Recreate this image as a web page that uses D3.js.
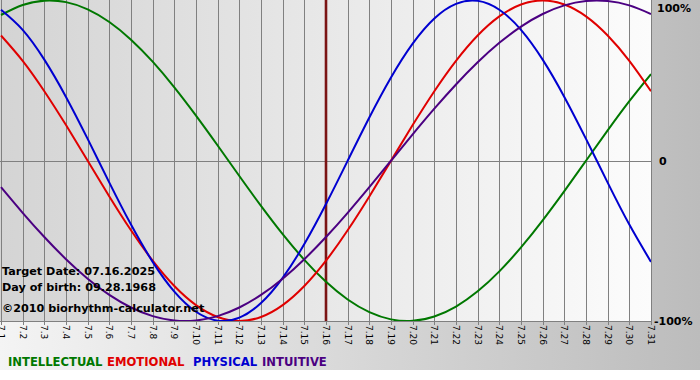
<!DOCTYPE html>
<html><head><meta charset="utf-8">
<script src="https://cdn.jsdelivr.net/npm/d3@7/dist/d3.min.js"></script>
<style>html,body{margin:0;padding:0;background:#fff;}svg{display:block;}</style>
</head><body>
<script>
const days = ["7.1","7.2","7.3","7.4","7.5","7.6","7.7","7.8","7.9","7.10","7.11","7.12","7.13","7.14","7.15","7.16","7.17","7.18","7.19","7.20","7.21","7.22","7.23","7.24","7.25","7.26","7.27","7.28","7.29","7.30","7.31"];
const intellectual = [0.9096,0.9718,0.9989,0.9898,0.9450,0.8660,0.7557,0.6182,0.4582,0.2817,0.0951,-0.0951,-0.2817,-0.4582,-0.6182,-0.7557,-0.8660,-0.9450,-0.9898,-0.9989,-0.9718,-0.9096,-0.8146,-0.6901,-0.5406,-0.3717,-0.1893,0,0.1893,0.3717,0.5406];
const emotional = [0.7818,0.6235,0.4339,0.2225,0,-0.2225,-0.4339,-0.6235,-0.7818,-0.9010,-0.9749,-1,-0.9749,-0.9010,-0.7818,-0.6235,-0.4339,-0.2225,0,0.2225,0.4339,0.6235,0.7818,0.9010,0.9749,1,0.9749,0.9010,0.7818,0.6235,0.4339];
const physical = [0.9423,0.8170,0.6310,0.3984,0.1362,-0.1362,-0.3984,-0.6310,-0.8170,-0.9423,-0.9977,-0.9791,-0.8879,-0.7308,-0.5196,-0.2698,0,0.2698,0.5196,0.7308,0.8879,0.9791,0.9977,0.9423,0.8170,0.6310,0.3984,0.1362,-0.1362,-0.3984,-0.6310];
const intuitive = [-0.1646,-0.3247,-0.4759,-0.6142,-0.7357,-0.8372,-0.9158,-0.9694,-0.9966,-0.9966,-0.9694,-0.9158,-0.8372,-0.7357,-0.6142,-0.4759,-0.3247,-0.1646,0,0.1646,0.3247,0.4759,0.6142,0.7357,0.8372,0.9158,0.9694,0.9966,0.9966,0.9694,0.9158];
const seriesNames = ["INTELLECTUAL","EMOTIONAL","PHYSICAL","INTUITIVE"];
const seriesColors = ["#007800","#e00000","#0000d0","#4b0082"];
const yTickValues = [1, 0, -1];
const yTickLabels = ["100%", "0", "-100%"];
const targetDay = "7.16";
const infoLines = ["Target Date: 07.16.2025", "Day of birth: 09.28.1968", "\u00a92010 biorhythm-calculator.net"];

const W = 700, H = 380;
const FONT = "DejaVu Sans, Verdana, sans-serif";
const svg = d3.select("body").append("svg").attr("width", W).attr("height", H);
const defs = svg.append("defs");
const g1 = defs.append("linearGradient").attr("id","outer").attr("x1","0").attr("x2","1").attr("y1","0").attr("y2","0");
g1.append("stop").attr("offset","0").attr("stop-color","#f4f4f4");
g1.append("stop").attr("offset","1").attr("stop-color","#bcbcbc");
const g2 = defs.append("linearGradient").attr("id","plotbg").attr("x1","0").attr("x2","1").attr("y1","0").attr("y2","0");
g2.append("stop").attr("offset","0").attr("stop-color","#d4d4d4");
g2.append("stop").attr("offset","1").attr("stop-color","#fcfcfc");

const L = 1, R = 651, T = 0, B = 321;
const x = d3.scaleLinear().domain([0, days.length - 1]).range([L, R]);
const y = d3.scaleLinear().domain([-1, 1]).range([B, T + 0.5]);

svg.append("rect").attr("x",0).attr("y",0).attr("width",W).attr("height",370).attr("fill","url(#outer)");
svg.append("rect").attr("x",0).attr("y",T).attr("width",R).attr("height",B-T).attr("fill","url(#plotbg)");
defs.append("clipPath").attr("id","clip").append("rect").attr("x",0).attr("y",T).attr("width",R).attr("height",B-T);

// vertical grid + ticks
svg.append("g").selectAll("line").data(days).join("line")
  .attr("x1",(d,i)=>Math.round(x(i))+0.5).attr("x2",(d,i)=>Math.round(x(i))+0.5)
  .attr("y1",T).attr("y2",B+4).attr("stroke","#808080").attr("stroke-width",1);
// zero line
svg.append("line").attr("x1",0).attr("x2",R).attr("y1",Math.round(y(0))+0.5).attr("y2",Math.round(y(0))+0.5)
  .attr("stroke","#808080");
// bottom axis line
svg.append("line").attr("x1",0).attr("x2",R+1).attr("y1",B+0.5).attr("y2",B+0.5).attr("stroke","#808080");

// target line
const ti = days.indexOf(targetDay);
svg.append("line").attr("x1",x(ti)).attr("x2",x(ti)).attr("y1",T).attr("y2",B)
  .attr("stroke","#7a1414").attr("stroke-width",2.6);

// curves
const line = d3.line().x((d,i)=>x(i)).y(d=>y(d)).curve(d3.curveNatural);
const allSeries = [intellectual, emotional, physical, intuitive];
const cg = svg.append("g").attr("clip-path","url(#clip)");
allSeries.forEach((s,k)=>{
  cg.append("path").attr("d", line(s)).attr("fill","none").attr("stroke",seriesColors[k]).attr("stroke-width",2);
});

// x tick labels
svg.append("g").selectAll("text").data(days).join("text")
  .attr("transform",(d,i)=>`translate(${Math.round(x(i))+0.5},${B+4}) rotate(90)`)
  .attr("dy","0.35em").attr("font-family",FONT).attr("font-size",9)
  .attr("fill","#000").text(d=>d);

// y labels
svg.append("g").selectAll("text").data(yTickValues).join("text")
  .attr("x",(d,i)=> i===1 ? 659 : (i===0 ? 657 : 654))
  .attr("y",d=>Math.max(y(d), 8)).attr("dy","0.36em")
  .attr("font-family",FONT).attr("font-weight","bold").attr("font-size",11)
  .attr("fill","#000").text((d,i)=>yTickLabels[i]);

// info text
svg.append("g").selectAll("text").data(infoLines).join("text")
  .attr("x",2).attr("y",(d,i)=>[275,291,312][i])
  .attr("font-family",FONT).attr("font-weight","bold").attr("font-size",11.2)
  .attr("fill","#000").text(d=>d);

// legend
const legendX = [8, 107, 193, 262];
svg.append("g").selectAll("text").data(seriesNames).join("text")
  .attr("x",(d,i)=>legendX[i]).attr("y",366)
  .attr("font-family",FONT).attr("font-weight","bold").attr("font-size",11.6)
  .attr("fill",(d,i)=>seriesColors[i]).text(d=>d);
</script>
</body></html>
